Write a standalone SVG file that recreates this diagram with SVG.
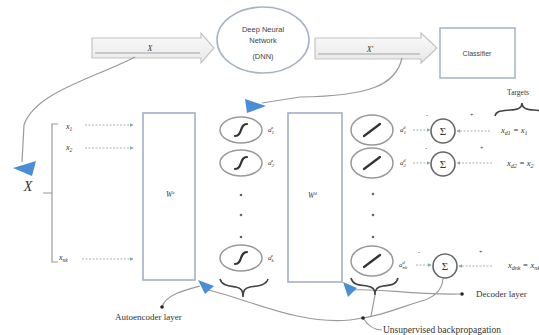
<svg xmlns="http://www.w3.org/2000/svg" width="539" height="335" viewBox="0 0 539 335">
<style>
.t{font-family:"Liberation Serif",serif;fill:#333}
.s{font-family:"Liberation Sans",Arial,sans-serif;fill:#444}
.ln{fill:none;stroke:#9a9a9a;stroke-width:1.2}
.dot{fill:none;stroke:#9aa;stroke-width:0.9;stroke-dasharray:2 1.5}
.box{fill:#fff;stroke:#a4aec4;stroke-width:1.6}
.ell{fill:#fff;stroke:#999;stroke-width:1.5}
.sum{fill:#fff;stroke:#666;stroke-width:1.6}
.glyph{fill:none;stroke:#333;stroke-width:2.2;stroke-linecap:round}
.blue{fill:#4a8fd6}
.blk{fill:none;stroke:#bbb;stroke-width:1.3}
.br{fill:none;stroke:#444;stroke-width:1.6}
</style>
<defs>
<linearGradient id="g" x1="0" y1="0" x2="0" y2="1"><stop offset="0" stop-color="#fafafa"/><stop offset="1" stop-color="#e8e8e8"/></linearGradient>
<marker id="ah" viewBox="0 0 6 6" refX="5" refY="3" markerWidth="4" markerHeight="4" orient="auto"><path d="M0 0L6 3L0 6z" fill="#8aa"/></marker>
<g id="sig"><ellipse class="ell" rx="21" ry="13"/><path class="glyph" d="M-6 6C-2 6 -1 3 0 0C1 -3 2 -6 6 -6"/></g>
<g id="lin"><ellipse class="ell" rx="21" ry="15"/><path class="glyph" d="M-8 6L8 -6"/></g>
</defs>
<rect width="539" height="335" fill="#fff"/>

<g id="arrow-x">
<path d="M92 38H201V33L214 48L201 63V58H92Z" fill="url(#g)" stroke="#c4c4c4" stroke-width="1.2"/>
<path class="blk" d="M95 53H200"/>
<text class="t" x="150" y="51" font-size="8" font-style="italic" text-anchor="middle">X</text>
</g>
<g id="dnn">
<ellipse cx="263" cy="40" rx="46" ry="33" fill="#fff" stroke="#a8b4c4" stroke-width="1.6"/>
<text class="s" x="263" y="32" font-size="7.5" text-anchor="middle">Deep Neural</text>
<text class="s" x="263" y="43" font-size="7.5" text-anchor="middle">Network</text>
<text class="s" x="263" y="59" font-size="7.5" text-anchor="middle">(DNN)</text>
</g>
<g id="arrow-xp">
<path d="M315 38H421V33L437 48L421 63V59H315Z" fill="url(#g)" stroke="#c4c4c4" stroke-width="1.2"/>
<path class="blk" d="M318 54H420"/>
<text class="t" x="370" y="52" font-size="8" font-style="italic" text-anchor="middle">X'</text>
</g>
<g id="classifier">
<rect x="440" y="28" width="75" height="50" fill="#fff" stroke="#a8b8c8" stroke-width="1.6"/>
<text class="s" x="477" y="56" font-size="7" text-anchor="middle">Classifier</text>
</g>

<g id="connectors">
<path class="ln" d="M135 57C95 78 35 92 24 125L22 162"/>
<path class="blue" d="M13 168L36 161L32 176Z"/>
<path class="ln" d="M402 58C396 85 370 96 300 97L262 103"/>
<path class="blue" d="M245 99L266 106L247 113Z"/>
<path class="dot" marker-end="url(#ah)" d="M85 125H133"/>
<path class="dot" marker-end="url(#ah)" d="M85 148H133"/>
<path class="dot" marker-end="url(#ah)" d="M82 259H133"/>
<path class="ln" d="M58 124H52V262H58M43 193H52"/>
<path class="dot" marker-end="url(#ah)" d="M413 130H430"/>
<path class="dot" marker-end="url(#ah)" d="M413 163H430"/>
<path class="dot" marker-end="url(#ah)" d="M416 265H431"/>
<path class="dot" marker-end="url(#ah)" d="M490 131H457"/>
<path class="dot" marker-end="url(#ah)" d="M492 163H457"/>
<path class="dot" marker-end="url(#ah)" d="M492 266H459"/>
<path class="ln" d="M162 307C165 295 185 290 200 286"/>
<path class="ln" d="M208 290C250 300 300 325 350 320C385 316 405 305 425 300C436 296 442 288 443 279"/>
<path class="ln" d="M352 290C380 288 410 295 460 294"/>
<path class="ln" d="M375 295L371 316"/>
<path class="ln" d="M363 318C368 326 375 330 382 330"/>
<path class="blue" d="M198 280L214 286L205 294Z"/>
<path class="blue" d="M343 282L357 288L348 297Z"/>
<circle cx="162" cy="307" r="1.8" fill="#222"/>
<circle cx="462" cy="294" r="1.8" fill="#222"/>
<circle cx="363" cy="318" r="1.8" fill="#222"/>
</g>

<g id="inputs">
<text class="t" x="66" y="129" font-size="8" font-style="italic">x<tspan font-size="5.5" dy="2">1</tspan></text>
<text class="t" x="66" y="150" font-size="8" font-style="italic">x<tspan font-size="5.5" dy="2">2</tspan></text>
<text class="t" x="59" y="260" font-size="8" font-style="italic">x<tspan font-size="5.5" dy="2">nk</tspan></text>
<text class="t" x="28" y="191" font-size="14" font-style="italic" text-anchor="middle">X</text>
</g>
<g id="encoder">
<rect class="box" x="143" y="113" width="52" height="167"/>
<text class="t" x="166" y="197" font-size="7.5" font-style="italic">W<tspan font-size="5" dy="-3">e</tspan></text>
</g>
<g id="enc-units">
<use href="#sig" x="241" y="130"/>
<use href="#sig" x="241" y="163"/>
<use href="#sig" x="241" y="258"/>
<circle cx="241" cy="195" r="1.3" fill="#666"/><circle cx="241" cy="215" r="1.3" fill="#666"/><circle cx="241" cy="237" r="1.3" fill="#666"/>
<text class="t" x="268" y="132" font-size="7" font-style="italic">a<tspan font-size="5" dy="2">1</tspan><tspan font-size="5" dx="-3" dy="-5">e</tspan></text>
<text class="t" x="268" y="165" font-size="7" font-style="italic">a<tspan font-size="5" dy="2">2</tspan><tspan font-size="5" dx="-3" dy="-5">e</tspan></text>
<text class="t" x="268" y="260" font-size="7" font-style="italic">a<tspan font-size="5" dy="2">k</tspan><tspan font-size="5" dx="-3" dy="-5">e</tspan></text>
<path class="br" d="M220 279C222 286 230 286 236 287C241 288 243 290 243 297C243 290 245 288 250 287C256 286 266 286 268 279"/>
</g>
<g id="decoder">
<rect class="box" x="288" y="113" width="54" height="169"/>
<text class="t" x="308" y="198" font-size="7.5" font-style="italic">W<tspan font-size="5" dy="-3">d</tspan></text>
</g>
<g id="dec-units">
<use href="#lin" x="372" y="130"/>
<use href="#lin" x="372" y="163"/>
<use href="#lin" x="372" y="261"/>
<circle cx="373" cy="194" r="1.3" fill="#666"/><circle cx="373" cy="215" r="1.3" fill="#666"/><circle cx="373" cy="237" r="1.3" fill="#666"/>
<text class="t" x="400" y="132" font-size="7" font-style="italic">a<tspan font-size="5" dy="2">1</tspan><tspan font-size="5" dx="-3" dy="-5">d</tspan></text>
<text class="t" x="400" y="165" font-size="7" font-style="italic">a<tspan font-size="5" dy="2">2</tspan><tspan font-size="5" dx="-3" dy="-5">d</tspan></text>
<text class="t" x="399" y="267" font-size="7" font-style="italic">a<tspan font-size="5" dy="2">nk</tspan><tspan font-size="5" dx="-5" dy="-5">d</tspan></text>
<path class="br" d="M351 278C353 286 361 285 367 286C373 287 375 289 375 295C375 289 377 287 383 286C389 285 396 286 398 278"/>
</g>
<g id="sums">
<circle class="sum" cx="443" cy="131" r="12"/><text class="t" x="443" y="135" font-size="11" text-anchor="middle">Σ</text>
<circle class="sum" cx="443" cy="164" r="12"/><text class="t" x="443" y="168" font-size="11" text-anchor="middle">Σ</text>
<circle class="sum" cx="445" cy="266" r="12"/><text class="t" x="445" y="270" font-size="11" text-anchor="middle">Σ</text>
<text class="t" x="426" y="117" font-size="6">-</text><text class="t" x="470" y="117" font-size="6">+</text>
<text class="t" x="425" y="150" font-size="6">-</text><text class="t" x="480" y="150" font-size="6">+</text>
<text class="t" x="418" y="254" font-size="6">-</text><text class="t" x="479" y="254" font-size="6">+</text>
</g>
<g id="targets">
<text class="t" x="518" y="95" font-size="7.5" text-anchor="middle">Targets</text>
<path class="br" d="M495 116C496 111 500 111 510 110C518 110 522 108 522 103C522 108 526 110 534 110C540 110 541 111 542 116"/>
<text class="t" x="501" y="133" font-size="8.5" font-style="italic">x<tspan font-size="6" dy="2">d1</tspan><tspan dy="-2"> = x</tspan><tspan font-size="6" dy="2">1</tspan></text>
<text class="t" x="507" y="166" font-size="8.5" font-style="italic">x<tspan font-size="6" dy="2">d2</tspan><tspan dy="-2"> = x</tspan><tspan font-size="6" dy="2">2</tspan></text>
<text class="t" x="508" y="268" font-size="8.5" font-style="italic">x<tspan font-size="6" dy="2">dnk</tspan><tspan dy="-2"> = x</tspan><tspan font-size="6" dy="2">nk</tspan></text>
</g>
<g id="labels">
<text class="t" x="115" y="320" font-size="9">Autoencoder layer</text>
<text class="t" x="476" y="297" font-size="9">Decoder layer</text>
<text class="t" x="383" y="333" font-size="9.5">Unsupervised backpropagation</text>
</g>
</svg>
